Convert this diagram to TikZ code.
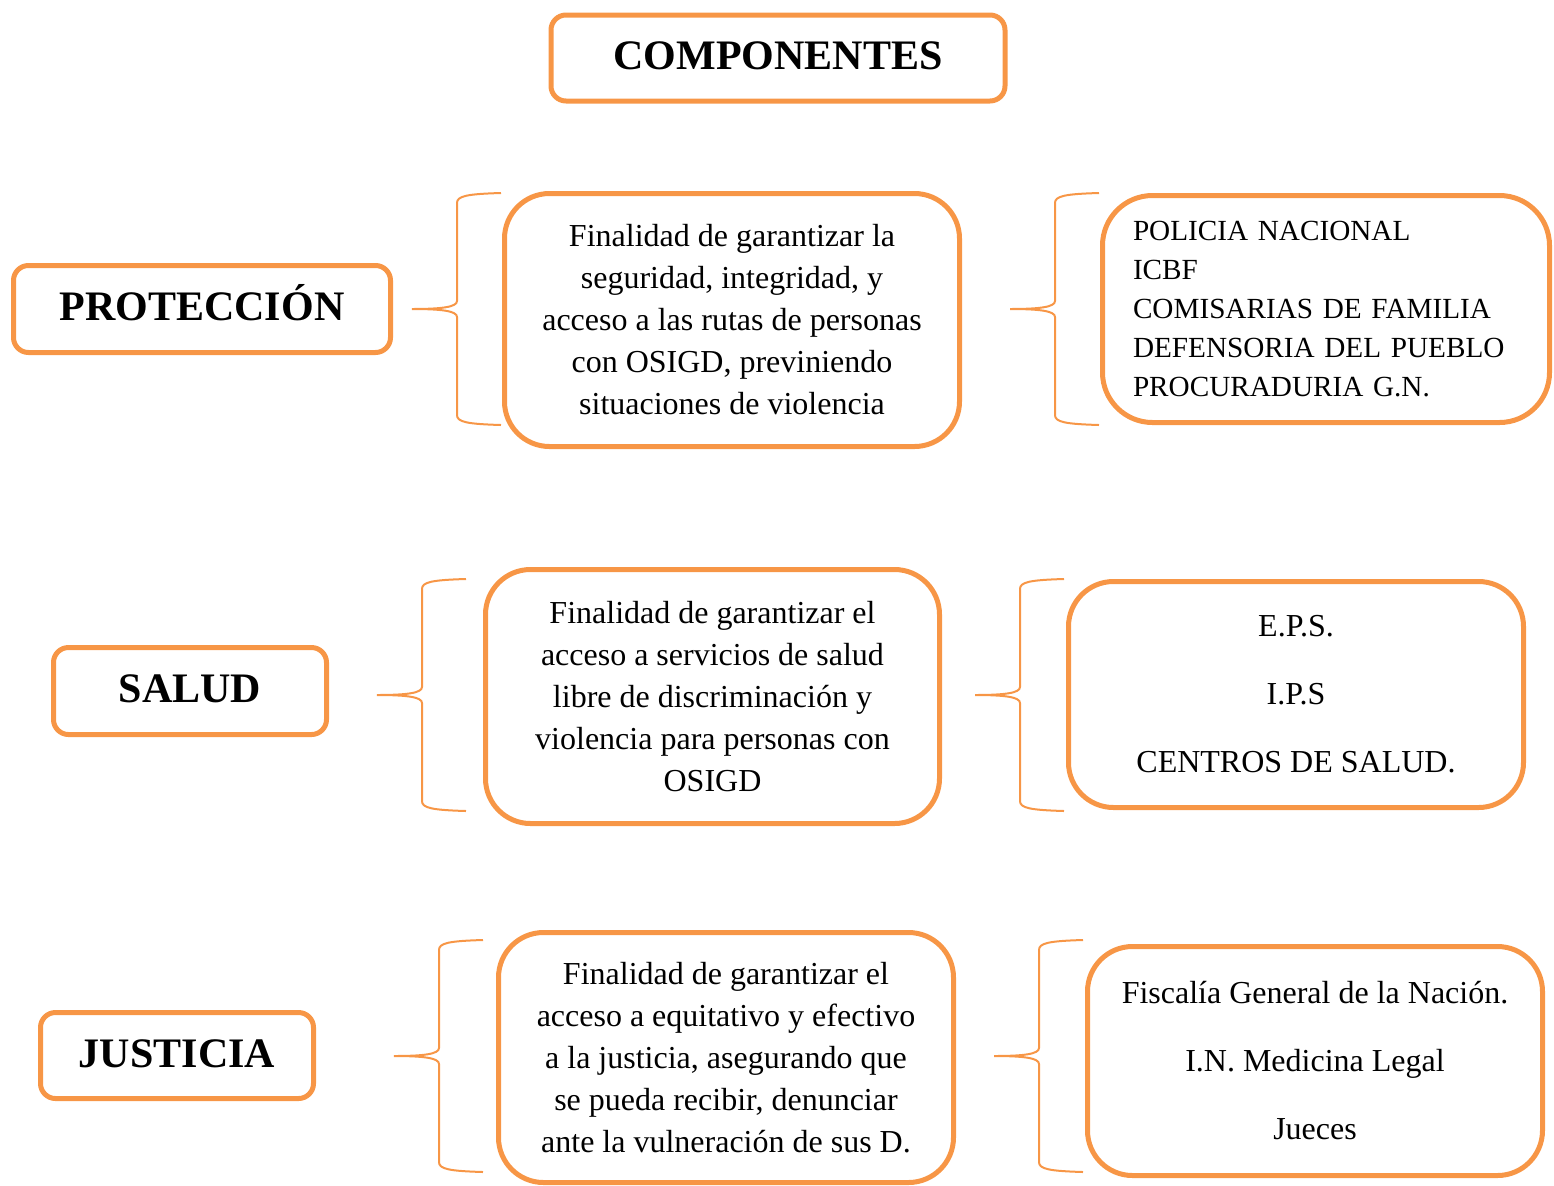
\documentclass[tikz,border=0pt]{standalone}
\usepackage{fontspec}
\setmainfont{Liberation Serif}
\usepackage{tikz}
\definecolor{naranja}{HTML}{F79646}
\tikzstyle{titulo}=[draw=naranja, line width=2.5pt, rounded corners=7.5pt, minimum height=43.5pt, text height=11.5pt, text depth=0pt, font=\fontsize{21}{25}\selectfont\bfseries]
\tikzstyle{caja}=[draw=naranja, line width=2.5pt, rounded corners=22.5pt, align=center, inner sep=0pt]
\tikzstyle{llave}=[draw=naranja, line width=1pt]

\begin{document}
\begin{tikzpicture}[x=0.5pt, y=-0.5pt]
		\useasboundingbox (0,0) rectangle (1554,1185);

		\node [style=titulo, minimum width=227pt, minimum height=43pt]    (comp) at (778, 58) {COMPONENTES};

		\node [style=titulo, minimum width=188.5pt]    (prot) at (202, 309) {PROTECCIÓN};
		\node [style=titulo, minimum width=136.5pt]    (salud) at (190, 691) {SALUD};
		\node [style=titulo, minimum width=136.5pt, minimum height=43pt]    (just) at (177, 1055.5) {JUSTICIA};

		\node [style=caja, minimum width=227.5pt, minimum height=126.5pt, font=\fontsize{16}{21}\selectfont]    (fprot) at (732, 320) {Finalidad de garantizar la\\seguridad, integridad, y\\acceso a las rutas de personas\\con OSIGD, previniendo\\situaciones de violencia};
		\node [style=caja, minimum width=227pt, minimum height=127pt, font=\fontsize{16}{21}\selectfont]    (fsalud) at (712.5, 696.5) {Finalidad de garantizar el\\acceso a servicios de salud\\libre de discriminación y\\violencia para personas con\\OSIGD};
		\node [style=caja, minimum width=227.5pt, minimum height=125pt, font=\fontsize{16}{21}\selectfont]    (fjust) at (726, 1057.5) {Finalidad de garantizar el\\acceso a equitativo y efectivo\\a la justicia, asegurando que\\se pueda recibir, denunciar\\ante la vulneración de sus D.};

		\node [style=caja, rounded corners=25pt, minimum width=223.5pt, minimum height=113.5pt, text width=193pt, align=left, font=\fontsize{14.6}{19.5}\selectfont]    (eprot) at (1326, 309) {POLICIA NACIONAL\\ICBF\\COMISARIAS DE FAMILIA\\DEFENSORIA DEL PUEBLO\\PROCURADURIA G.N.};
		\node [style=caja, minimum width=227.5pt, minimum height=113pt, font=\fontsize{16}{34}\selectfont]    (esalud) at (1296, 694.5) {E.P.S.\\I.P.S\\CENTROS DE SALUD.};
		\node [style=caja, minimum width=227.5pt, minimum height=114.5pt, font=\fontsize{16}{34}\selectfont]    (ejust) at (1315, 1061) {Fiscalía General de la Nación.\\I.N. Medicina Legal\\Jueces};

		% puntas de las llaves
		\coordinate (lp1) at (412, 309);
		\coordinate (lp2) at (1010, 309);
		\coordinate (ls1) at (377, 695);
		\coordinate (ls2) at (975, 695);
		\coordinate (lj1) at (394, 1056);
		\coordinate (lj2) at (994, 1056);

		\foreach \p in {lp1, lp2, ls1, ls2, lj1, lj2}
			\draw [style=llave, shift={(\p)}] (89,-116) .. controls (55,-115) and (45,-113) .. (45,-106) -- (45,-8) .. controls (45,-2) and (30,0) .. (0,0) .. controls (30,0) and (45,2) .. (45,8) -- (45,106) .. controls (45,113) and (55,115) .. (89,116);

\end{tikzpicture}
\end{document}
